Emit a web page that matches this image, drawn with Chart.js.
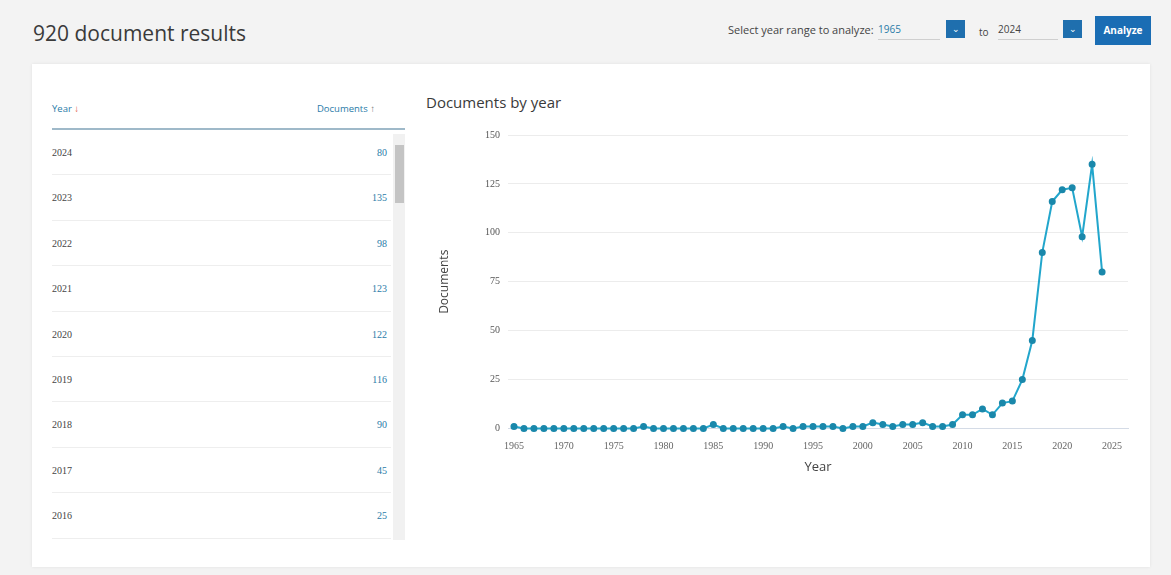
<!DOCTYPE html>
<html>
<head>
<meta charset="utf-8">
<script src="https://cdn.jsdelivr.net/npm/chart.js@4.4.1/dist/chart.umd.min.js"></script>
<style>
  body { margin:0; width:1171px; height:575px; background:#f3f3f3; font-family:"Open Sans", Arial, sans-serif; position:relative; overflow:hidden; }
  #head { position:absolute; left:33px; top:19px; font-size:21px; color:#3a3a3a; }
  #range { position:absolute; left:728px; top:22px; font-size:11px; color:#444; }
  .inp { position:absolute; top:20px; height:19px; border-bottom:1px solid #cfcfcf; font-size:10px; line-height:19px; }
  .dd { position:absolute; top:20px; width:19px; height:18px; background:#1f6fae; color:#fff; font-size:9px; text-align:center; line-height:18px; }
  #btn { position:absolute; left:1095px; top:16px; width:56px; height:29px; background:#1a6db4; color:#fff; font-size:10px; font-weight:bold; text-align:center; line-height:29px; }
  #panel { position:absolute; left:32px; top:64px; width:1118px; height:503px; background:#fff; box-shadow:0 0 3px rgba(0,0,0,0.08); }
  #tbl { position:absolute; left:52px; top:90px; width:353px; }
  #tbl .th { position:relative; height:38px; border-bottom:2px solid #9fb9c9; font-size:9.5px; }
  #tbl .row { position:relative; height:44.4px; border-bottom:1px solid #eeeeee; font-size:10px; margin-right:14px; }
  #tbl .yr { position:absolute; left:0; top:17px; color:#444; font-family:"Liberation Serif", serif; }
  #tbl .ct { position:absolute; right:4px; top:17px; color:#2a7ba8; font-family:"Liberation Serif", serif; }
  #sbar { position:absolute; left:393px; top:134px; width:12px; height:406px; background:#f1f1f1; }
  #thumb { position:absolute; left:395px; top:145px; width:9px; height:58px; background:#c4c4c4; }
  #ctitle { position:absolute; left:426px; top:92px; font-size:15px; color:#3a3a3a; }
  #wrap { position:absolute; left:425px; top:115px; width:715px; height:365px; }
</style>
</head>
<body>
<div id="head">920 document results</div>
<div id="range">Select year range to analyze:</div>
<div class="inp" style="left:878px;width:62px;color:#2a7ba8;">1965</div>
<div class="dd" style="left:946px;">&#8964;</div>
<div style="position:absolute;left:979px;top:25px;font-size:10px;color:#444;">to</div>
<div class="inp" style="left:998px;width:60px;color:#444;">2024</div>
<div class="dd" style="left:1063px;">&#8964;</div>
<div id="btn">Analyze</div>

<div id="panel"></div>
<div id="tbl"></div>
<div id="sbar"></div>
<div id="thumb"></div>
<div id="ctitle">Documents by year</div>
<div id="wrap"><canvas id="myChart"></canvas></div>

<script>
var years = [];
for (var y = 1965; y <= 2024; y++) years.push(y);
var docs = [1, 0, 0, 0, 0, 0, 0, 0, 0, 0,
            0, 0, 0, 1, 0, 0, 0, 0, 0, 0,
            2, 0, 0, 0, 0, 0, 0, 1, 0, 1,
            1, 1, 1, 0, 1, 1, 3, 2, 1, 2,
            2, 3, 1, 1, 2, 7, 7, 10, 7, 13,
            14, 25, 45, 90, 116, 122, 123, 98, 135, 80];
var tickYears = [1965, 1970, 1975, 1980, 1985, 1990, 1995, 2000, 2005, 2010, 2015, 2020, 2025];
var yTicks = [0, 25, 50, 75, 100, 125, 150];

function drawTable()
{
    var html = '<div class="th"><span style="position:absolute;left:0;top:12px;color:#2a7ba8;">Year <span style="color:#e0533a;">&#8595;</span></span>' +
        '<span style="position:absolute;right:30px;top:12px;color:#2a7ba8;">Documents <span style="color:#777;">&#8593;</span></span></div>';
    for (var i = years.length - 1; i >= years.length - 9; i--) {
        html += '<div class="row"><span class="yr">' + years[i] + '</span><span class="ct">' + docs[i] + '</span></div>';
    }
    document.getElementById('tbl').innerHTML = html;
}
drawTable();

var pts = years.map(function (yr, i) { return {x: yr, y: docs[i]}; });

new Chart("myChart", {
  type: "line",
  data: {
    datasets: [{
      data: pts,
      borderColor: "#22a6cc",
      backgroundColor: "#1a88ab",
      pointBackgroundColor: "#1a88ab",
      pointBorderColor: "#1a88ab",
      borderWidth: 2,
      pointRadius: 2.5,
      tension: 0,
      clip: false
    }]
  },
  options: {
    responsive: true,
    maintainAspectRatio: false,
    animation: false,
    layout: { padding: { top: 20, right: 12, left: 0, bottom: 0 } },
    plugins: { legend: { display: false }, tooltip: { enabled: false } },
    scales: {
      x: {
        type: "linear",
        min: 1964.4,
        max: 2026.6,
        afterBuildTicks: function (s) { s.ticks = tickYears.map(function (v) { return {value: v}; }); },
        afterFit: function (s) { s.height = 51.5; },
        grid: { display: false, drawTicks: false },
        border: { display: true, color: "#d4dbe6", width: 1 },
        ticks: { autoSkip: false, maxRotation: 0, padding: 12, color: "#666",
                 font: { family: "Liberation Serif", size: 10 },
                 callback: function (v) { return String(v); } },
        title: { display: true, text: "Year", color: "#444", font: { family: "Open Sans", size: 13 }, padding: { top: 0, bottom: 5 } }
      },
      y: {
        min: 0,
        max: 150,
        afterBuildTicks: function (s) { s.ticks = yTicks.map(function (v) { return {value: v}; }); },
        afterFit: function (s) { s.width = 83; },
        grid: { color: "#ececec", drawTicks: false },
        border: { display: false },
        ticks: { padding: 8, color: "#555", font: { family: "Liberation Serif", size: 10 } },
        title: { display: true, text: "Documents", color: "#444", font: { family: "Open Sans", size: 12 }, padding: { top: 12, bottom: 0 } }
      }
    }
  }
});
</script>
</body>
</html>
